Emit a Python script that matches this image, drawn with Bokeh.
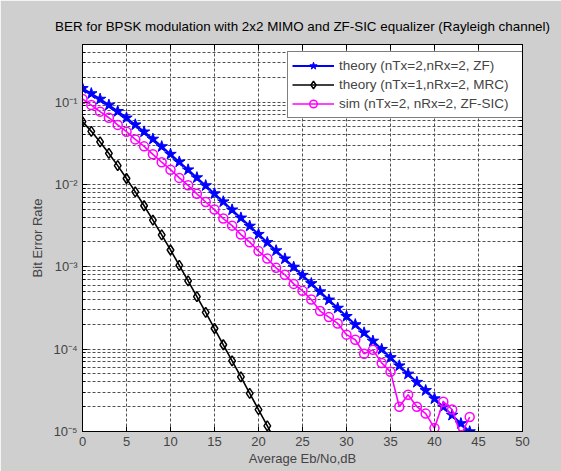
from bokeh.plotting import figure
from bokeh.models import (FixedTicker, CustomJSTickFormatter, LinearAxis, LogAxis,
                          Range1d, Legend, LegendItem)
from bokeh.embed import file_html
from bokeh.resources import INLINE

title_text = "BER for BPSK modulation with 2x2 MIMO and ZF-SIC equalizer (Rayleigh channel)"
x_label = "Average Eb/No,dB"
y_label = "Bit Error Rate"

# theory (nTx=2, nRx=2, ZF)
ebno_zf = list(range(0, 45))
ber_zf = [0.1464, 0.1267, 0.1085, 0.0919, 0.0771, 0.0642, 0.0530, 0.0435, 0.0355, 0.0288,
          0.02327, 0.01875, 0.01506, 0.01208, 0.00967, 0.00772, 0.00616, 0.00491, 0.00392, 0.00312,
          0.00248, 0.001974, 0.001570, 0.001248, 0.000992, 0.000789, 0.000627, 0.000498, 0.000396, 0.000315,
          0.000250, 0.0001986, 0.0001577, 0.0001253, 9.95e-5, 7.91e-5, 6.28e-5, 4.99e-5, 3.96e-5, 3.15e-5,
          2.50e-5, 1.99e-5, 1.58e-5, 1.25e-5, 9.95e-6]

# theory (nTx=1, nRx=2, MRC)
ebno_mrc = list(range(0, 23))
ber_mrc = [0.0580, 0.0441, 0.0328, 0.0238, 0.0169, 0.0118, 0.00813, 0.00551, 0.00369, 0.00244,
           0.00160, 0.00104, 0.000674, 0.000434, 0.000279, 0.000178, 0.000113, 7.21e-5, 4.60e-5, 2.91e-5,
           1.84e-5, 1.17e-5, 7.39e-6]

# sim (nTx=2, nRx=2, ZF-SIC)
ebno_sim = list(range(0, 45))
ber_sim = [0.109, 0.092, 0.0765, 0.0645, 0.0528, 0.0437, 0.0352, 0.0290, 0.0232, 0.0186,
           0.0151, 0.0120, 0.00975, 0.00768, 0.00612, 0.00495, 0.00385, 0.00316, 0.00246, 0.00199,
           0.00155, 0.00126, 0.00097, 0.00080, 0.00062, 5.1e-4, 4.0e-4, 2.9e-4, 2.45e-4, 2.05e-4,
           1.5e-4, 1.3e-4, 8.8e-5, 9.8e-5, 6.8e-5, 5.3e-5, 2.0e-5, 2.8e-5, 2.0e-5, 1.65e-5,
           1.1e-5, 2.3e-5, 1.85e-5, 9.0e-6, 1.5e-5]

legend_labels = ["theory (nTx=2,nRx=2, ZF)", "theory (nTx=1,nRx=2, MRC)", "sim (nTx=2, nRx=2, ZF-SIC)"]

x_ticks = [0, 5, 10, 15, 20, 25, 30, 35, 40, 45, 50]
y_ticks = [1e-5, 1e-4, 1e-3, 1e-2, 1e-1]
y_minor = [m * d for d in y_ticks for m in range(2, 10)]

FONT = "Liberation Sans"
BG = "#cfcfcf"
GRID = "#505050"

p = figure(width=561, height=471, output_backend="svg", toolbar_location=None,
           x_range=Range1d(0, 50), y_range=Range1d(1e-5, 0.5), y_axis_type="log",
           min_border_left=82, min_border_right=39, min_border_top=44, min_border_bottom=40)
p.border_fill_color = BG
p.background_fill_color = "white"
p.outline_line_color = "black"
p.outline_line_width = 1

p.title.text = title_text
p.title.align = "center"
p.title.text_font = FONT
p.title.text_font_size = "13.4px"
p.title.text_font_style = "normal"
p.title.text_color = "black"
p.title.standoff = 22

xt = FixedTicker(ticks=x_ticks)
yt = FixedTicker(ticks=y_ticks, minor_ticks=y_minor)

sup_code = """
const sup = {'-':'\u207b','0':'\u2070','1':'\u00b9','2':'\u00b2','3':'\u00b3','4':'\u2074',
             '5':'\u2075','6':'\u2076','7':'\u2077','8':'\u2078','9':'\u2079'};
const e = Math.round(Math.log10(tick));
return '10' + String(e).split('').map(c => sup[c]).join('');
"""

xa = p.xaxis[0]
xa.ticker = xt
xa.axis_label = x_label
ya = p.yaxis[0]
ya.ticker = yt
ya.formatter = CustomJSTickFormatter(code=sup_code)
ya.axis_label = y_label

for ax in (xa, ya):
    ax.axis_label_text_font = FONT
    ax.axis_label_text_font_size = "13px"
    ax.axis_label_text_font_style = "normal"
    ax.major_label_text_font = FONT
    ax.major_label_text_font_size = "13px"
    ax.axis_line_color = "black"
    ax.major_tick_line_color = "black"
    ax.minor_tick_line_color = "black"
    ax.major_tick_in = 5
    ax.major_tick_out = 0
    ax.minor_tick_in = 3
    ax.minor_tick_out = 0
xa.major_label_standoff = 5
xa.axis_label_standoff = 2
ya.major_label_standoff = 5
ya.axis_label_standoff = 5

top_ax = LinearAxis(ticker=xt, major_label_text_font_size="1px", major_label_text_color=None,
                    major_tick_in=5, major_tick_out=0, major_label_standoff=0,
                    axis_line_color="black", major_tick_line_color="black")
right_ax = LogAxis(ticker=yt, major_label_text_font_size="1px", major_label_text_color=None,
                   major_tick_in=5, major_tick_out=0, minor_tick_in=3, minor_tick_out=0,
                   major_label_standoff=0, axis_line_color="black",
                   major_tick_line_color="black", minor_tick_line_color="black")
p.add_layout(top_ax, "above")
p.add_layout(right_ax, "right")

p.xgrid.ticker = xt
p.ygrid.ticker = yt
for g in (p.xgrid[0], p.ygrid[0]):
    g.grid_line_color = GRID
    g.grid_line_dash = "3 2"
    g.grid_line_width = 1
p.ygrid.minor_grid_line_color = GRID
p.ygrid.minor_grid_line_dash = "3 2"
p.ygrid.minor_grid_line_width = 1

l1 = p.line(ebno_zf, ber_zf, line_color="#0000ff", line_width=2)
s1 = p.scatter(ebno_zf, ber_zf, marker="star", size=12, fill_color="#0000ff", line_color="#0000ff")
l2 = p.line(ebno_mrc, ber_mrc, line_color="black", line_width=1.6)
s2 = p.scatter(ebno_mrc, ber_mrc, marker="diamond", size=10, fill_color=None, line_color="black", line_width=1.5)
l3 = p.line(ebno_sim, ber_sim, line_color="#ff00ff", line_width=1.6)
s3 = p.scatter(ebno_sim, ber_sim, marker="circle", size=9, fill_color=None, line_color="#ff00ff", line_width=1.5)

legend = Legend(items=[LegendItem(label=legend_labels[0], renderers=[l1, s1]),
                       LegendItem(label=legend_labels[1], renderers=[l2, s2]),
                       LegendItem(label=legend_labels[2], renderers=[l3, s3])],
                location=(205, 313), border_line_color="black", border_line_width=1,
                background_fill_color="white", background_fill_alpha=1.0,
                label_text_font=FONT, label_text_font_size="13.5px",
                glyph_width=42, glyph_height=19, label_height=19, label_standoff=5,
                label_width=183, padding=4, spacing=0, margin=0)
p.add_layout(legend)

open("out.html", "w").write(file_html(p, INLINE))
